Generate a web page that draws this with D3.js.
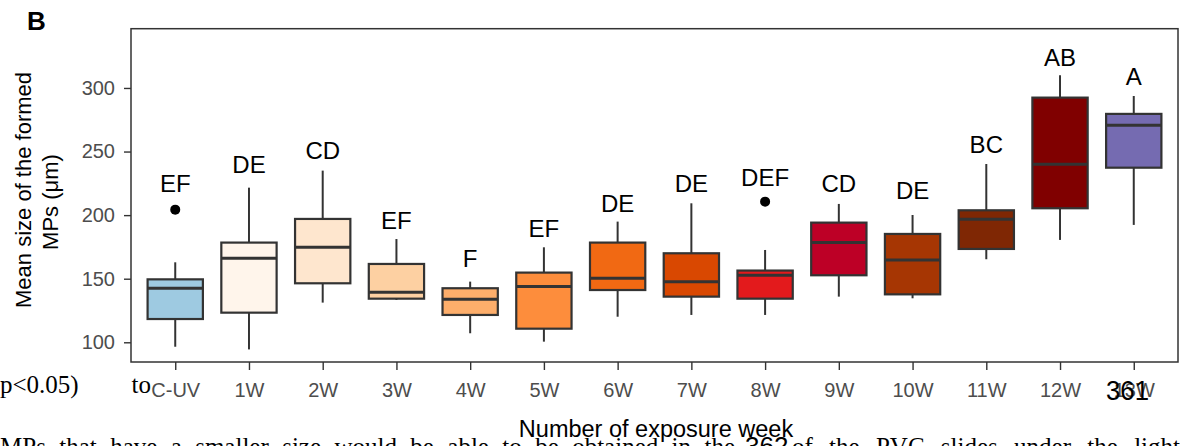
<!DOCTYPE html>
<html>
<head>
<meta charset="utf-8">
<style>
  body { margin: 0; background: #fff; }
  svg { display: block; font-family: "Liberation Sans", Arial, sans-serif; }
</style>
</head>
<body>
<script src="https://d3js.org/d3.v7.min.js"></script>
<script>
// data
const weeks = ["C-UV", "1W", "2W", "3W", "4W", "5W", "6W", "7W", "8W", "9W", "10W", "11W", "12W", "13W"]
const whiskLow  = [96.5, 94.4, 131.2, 133.3, 107.1, 100.5, 120.1, 121.5, 121.5, 135.9, 134.6, 165.3, 180.5, 192.3]
const q1        = [118.3, 123.3, 146.4, 134.3, 121.5, 110.7, 141.1, 135.9, 134.3, 152.7, 137.7, 173.4, 205.4, 237.3]
const medians   = [142.5, 166.0, 174.7, 139.3, 133.8, 143.8, 150.3, 147.7, 152.7, 178.4, 164.7, 196.7, 240.0, 270.7]
const q3        = [149.5, 178.4, 197.0, 161.6, 142.5, 154.8, 178.4, 170.0, 156.4, 194.1, 185.2, 203.8, 292.4, 279.6]
const whiskHigh = [162.9, 221.6, 235.0, 181.2, 147.7, 174.7, 194.9, 209.3, 172.6, 208.8, 200.1, 240.2, 310.0, 293.7]
const outliers  = [[204.3], [], [], [], [], [], [], [], [210.6], [], [], [], [], []]
const letters   = ["EF", "DE", "CD", "EF", "F", "EF", "DE", "DE", "DEF", "CD", "DE", "BC", "AB", "A"]
const letterAt  = [218.0, 233.4, 244.2, 188.9, 159.5, 183.1, 202.7, 218.0, 223.2, 218.5, 212.7, 248.6, 317.5, 302.4]
const fills = ["#9ecae1", "#fff5eb", "#fee6ce", "#fdd0a2", "#fdae6b", "#fd8d3c", "#f16913",
               "#d94801", "#e31a1c", "#bd0026", "#a63603", "#7f2704", "#800000", "#756bb1"]
const yTicks = [100, 150, 200, 250, 300]

const W = 1180, H = 446
const pLeft = 131, pRight = 1178, pTop = 28.7, pBottom = 362

const svg = d3.select("body").append("svg").attr("width", W).attr("height", H)

const x = d3.scalePoint().domain(weeks).range([pLeft, pRight]).padding(0.6)
const y = d3.scaleLinear().domain([84.5, 346.6]).range([pBottom, pTop])
const bw = x.step() * 0.75

const rows = weeks.map((w, i) => ({
  w, lo: whiskLow[i], q1: q1[i], med: medians[i], q3: q3[i], hi: whiskHigh[i],
  out: outliers[i], lab: letters[i], labY: letterAt[i], fill: fills[i]
}))

// axes
const yAxis = svg.append("g").attr("transform", `translate(${pLeft},0)`)
  .call(d3.axisLeft(y).tickValues(yTicks).tickSize(7).tickPadding(9))
const xAxis = svg.append("g").attr("transform", `translate(0,${pBottom})`)
  .call(d3.axisBottom(x).tickSize(8).tickPadding(13))
;[yAxis, xAxis].forEach(g => {
  g.select(".domain").remove()
  g.selectAll(".tick line").attr("stroke", "#333").attr("stroke-width", 1.4)
  g.selectAll(".tick text").attr("fill", "#4d4d4d").style("font-size", "20px")
    .style("font-family", '"Liberation Sans", Arial, sans-serif')
})

const box = svg.append("g").selectAll("g").data(rows).join("g")
  .attr("transform", d => `translate(${x(d.w)},0)`)

box.append("line").attr("y1", d => y(d.lo)).attr("y2", d => y(d.hi))
  .attr("stroke", "#333").attr("stroke-width", 2)
box.append("rect").attr("x", -bw / 2).attr("width", bw)
  .attr("y", d => y(d.q3)).attr("height", d => y(d.q1) - y(d.q3))
  .attr("fill", d => d.fill).attr("stroke", "#333").attr("stroke-width", 2.2)
box.append("line").attr("x1", -bw / 2).attr("x2", bw / 2)
  .attr("y1", d => y(d.med)).attr("y2", d => y(d.med))
  .attr("stroke", "#333").attr("stroke-width", 3)
box.selectAll("circle").data(d => d.out).join("circle")
  .attr("r", 5).attr("cy", d => y(d)).attr("fill", "#000")
box.append("text").attr("y", d => y(d.labY)).attr("text-anchor", "middle")
  .style("font-size", "24px").attr("fill", "#000").text(d => d.lab)

// panel border
svg.append("rect").attr("x", pLeft).attr("y", pTop)
  .attr("width", pRight - pLeft).attr("height", pBottom - pTop)
  .attr("fill", "none").attr("stroke", "#333").attr("stroke-width", 1.5)

// titles
svg.append("text").attr("x", 656).attr("y", 437).attr("text-anchor", "middle")
  .style("font-size", "23.5px").text("Number of exposure week")
svg.append("text").attr("transform", "translate(30.5,190) rotate(-90)")
  .attr("text-anchor", "middle").style("font-size", "22px").text("Mean size of the formed")
svg.append("text").attr("transform", "translate(58,202) rotate(-90)")
  .attr("text-anchor", "middle").style("font-size", "22px").text("MPs (μm)")

svg.append("text").attr("x", 27).attr("y", 30).style("font-size", "26px")
  .style("font-weight", "bold").text("B")

// stray page text around the figure
const serif = '"Liberation Serif", "Times New Roman", serif'
svg.append("text").attr("x", 0).attr("y", 393).style("font-family", serif)
  .style("font-size", "25px").text("p<0.05)")
svg.append("text").attr("x", 131.5).attr("y", 393).style("font-family", serif)
  .style("font-size", "25px").text("to")
svg.append("text").attr("x", 1106).attr("y", 400).style("font-size", "28px")
  .attr("textLength", 43).attr("lengthAdjust", "spacingAndGlyphs").text("361")

// justified caption line, mostly below the bottom edge
function justified(str, x0, x1) {
  const t = svg.append("text").attr("x", x0).attr("y", 455)
    .style("font-family", serif).style("font-size", "25px").text(str)
  const gaps = str.split(" ").length - 1
  const extra = (x1 - x0 - t.node().getComputedTextLength()) / gaps
  t.style("word-spacing", Math.max(0, extra) + "px")
}
justified("MPs that have a smaller size would be able to be obtained in the", 0, 735)
svg.append("text").attr("x", 745).attr("y", 455).style("font-size", "26px").text("362")
justified("of the PVC slides under the light", 792, 1180)
</script>
</body>
</html>
